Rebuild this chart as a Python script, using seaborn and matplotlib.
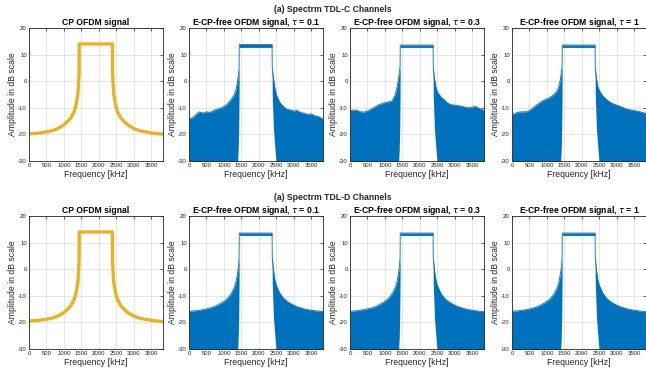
import matplotlib
matplotlib.use("Agg")
import matplotlib.pyplot as plt
import seaborn as sns
import pandas as pd

# frequency knots (kHz)
cp_freq = [0, 300, 600, 800, 1000, 1100, 1200, 1300, 1350, 1400, 1420, 1435, 1440, 1900,
           2390, 2395, 2410, 2430, 2480, 2530, 2630, 2730, 2830, 3030, 3230, 3530, 3840]
ecp_freq = [0, 100, 200, 300, 400, 500, 600, 700, 800, 900, 1000, 1100, 1200, 1300,
            1350, 1390, 1410, 1425, 1435, 1440, 1900, 2380, 2385, 2420, 2460, 2500,
            2600, 2700, 2800, 2900, 3000, 3100, 3200, 3300, 3400, 3500, 3600, 3700, 3800, 3840]

# lower edge of the blue spectra (white wedge under the passband)
ecp_lower = [-31] * 14 + [-31, -31, -26, -18, -5, 12.7, 12.7, 12.7, -5, -18, -25, -31] + [-31] * 14

# CP OFDM (yellow)
cp_tdlc = [-19.8, -19.5, -18.8, -18, -16.4, -15.2, -13.8, -11.3, -8.8, -5, -1, 3, 14, 14,
           14, 3, -1, -5, -8.8, -11.3, -13.8, -15.2, -16.4, -18, -18.8, -19.5, -19.9]
cp_tdld = [-19.5, -19.2, -18.6, -17.8, -16.3, -15.1, -13.7, -11.2, -8.8, -5, -1, 3, 14, 14,
           14, 3, -1, -5, -8.8, -11.2, -13.7, -15.1, -16.3, -17.8, -18.6, -19.3, -19.7]

# E-CP-free OFDM upper envelopes (blue)
ecp_tdlc = {
    "0.1": [-14, -13.8, -12.5, -11.5, -12, -11.5, -11.8, -11, -10.5, -10.2, -9.5, -8.5, -7, -5,
            -3, 0, 2, 3.5, 5, 13.8, 13.8, 13.8, 5, 1, -2.5, -5,
            -8, -9.5, -10.5, -10.8, -11.2, -11, -11.8, -12, -12.5, -12.3, -13, -13.2, -14, -14.3],
    "0.3": [-11.1, -10.8, -11, -11.5, -11.6, -11.2, -10.5, -9.8, -9, -8.5, -8, -7.8, -7.5, -5,
            -2, 1, 3, 4.5, 6, 13.6, 13.6, 13.6, 5, 1, -2, -4,
            -5.8, -7, -8.3, -8.8, -9, -9.2, -9.4, -9.8, -10, -9.8, -9.5, -10.2, -10.8, -11],
    "1": [-12.6, -12, -11.6, -11.5, -11.5, -11, -10, -9, -8, -7.2, -6.6, -6, -5, -3.5,
          -1.5, 1, 3, 4.5, 6, 13.6, 13.6, 13.6, 5, 1, -2, -3.5,
          -5.5, -6.8, -7.8, -8.5, -9, -9.5, -10, -10.5, -10.8, -11, -11.3, -11.6, -12, -12.2],
}
ecp_tdld = {
    "0.1": [-15.8, -15.7, -15.6, -15.4, -15.2, -14.9, -14.6, -14.2, -13.6, -12.9, -12.1, -11, -9.4, -6.8,
            -4.5, -1.5, 0.5, 2.5, 4.5, 13.6, 13.6, 13.6, 4.5, -0.5, -4, -6,
            -9, -10.8, -12, -12.8, -13.5, -14.1, -14.5, -14.9, -15.2, -15.4, -15.6, -15.7, -15.8, -16],
    "0.3": [-15.8, -15.7, -15.6, -15.4, -15.2, -14.9, -14.6, -14.2, -13.6, -12.9, -12.1, -11, -9.4, -6.8,
            -4.5, -1.5, 0.5, 2.5, 4.5, 13.6, 13.6, 13.6, 4.5, -0.5, -4, -6,
            -9, -10.8, -12, -12.8, -13.5, -14.1, -14.5, -14.9, -15.2, -15.4, -15.6, -15.8, -15.9, -16],
    "1": [-15.8, -15.7, -15.6, -15.4, -15.2, -14.9, -14.6, -14.2, -13.6, -12.9, -12.1, -11, -9.4, -6.8,
          -4.5, -1.5, 0.5, 2.5, 4.5, 13.6, 13.6, 13.6, 4.5, -0.5, -4, -6,
          -9, -10.8, -12, -12.8, -13.5, -14.1, -14.5, -14.9, -15.2, -15.4, -15.6, -15.8, -15.9, -16],
}

row_titles = ["(a) Spectrm TDL-C Channels", "(a) Spectrm TDL-D Channels"]
taus = ["0.1", "0.3", "1"]
xticks = [0, 500, 1000, 1500, 2000, 2500, 3000, 3500]
yticks = [-30, -20, -10, 0, 10, 20]

YELLOW = "#EDB120"
BLUE = "#0072BD"

sns.set_theme(style="whitegrid")
plt.rcParams["font.family"] = ["Liberation Sans", "DejaVu Sans"]
plt.rcParams["mathtext.fontset"] = "dejavusans"

fig = plt.figure(figsize=(6.46, 3.74), dpi=100)

lefts = [29, 189, 350, 512]
row_tops = [28, 216]
W, H = 646, 374
aw, ah = 134, 133


def style_ax(ax, title):
    ax.set_xlim(0, 3840)
    ax.set_ylim(-30, 20)
    ax.set_xticks(xticks)
    ax.set_yticks(yticks)
    ax.set_xticklabels([str(t) for t in xticks])
    ax.set_yticklabels([str(t) for t in yticks])
    ax.tick_params(labelsize=4.3, direction="in", length=2, width=0.5,
                   top=True, right=True, colors="#262626", pad=1.5)
    ax.grid(True, color="#dcdcdc", linewidth=0.5)
    ax.set_axisbelow(True)
    for s in ax.spines.values():
        s.set_color("#262626")
        s.set_linewidth(0.6)
    ax.set_facecolor("white")
    ax.set_xlabel("Frequency [kHz]", fontsize=6.2, color="#262626", labelpad=1.5)
    ax.set_ylabel("Amplitude in dB scale", fontsize=6.2, color="#262626", labelpad=1)
    ax.set_title(title, fontsize=6.2, fontweight="bold", pad=2.5, color="black")


for r in range(2):
    cp_vals = cp_tdlc if r == 0 else cp_tdld
    ecp_vals = ecp_tdlc if r == 0 else ecp_tdld
    for c in range(4):
        ax = fig.add_axes([lefts[c] / W, 1 - (row_tops[r] + ah) / H, aw / W, ah / H])
        if c == 0:
            df = pd.DataFrame({"f": cp_freq, "a": cp_vals})
            sns.lineplot(data=df, x="f", y="a", ax=ax, color=YELLOW, linewidth=2.4,
                         sort=False, estimator=None)
            style_ax(ax, "CP OFDM signal")
        else:
            tau = taus[c - 1]
            up = ecp_vals[tau]
            ax.fill_between(ecp_freq, ecp_lower, up, color=BLUE, linewidth=0)
            df = pd.DataFrame({"f": ecp_freq, "a": up})
            sns.lineplot(data=df, x="f", y="a", ax=ax, color=BLUE, linewidth=0.6,
                         sort=False, estimator=None)
            style_ax(ax, "E-CP-free OFDM signal, $\\tau$ = " + tau)

    fig.text(333 / W, 1 - (10 if r == 0 else 197) / H, row_titles[r], ha="center", va="center",
             fontsize=6.2, fontweight="bold")

fig.savefig("out.png", dpi=100)
